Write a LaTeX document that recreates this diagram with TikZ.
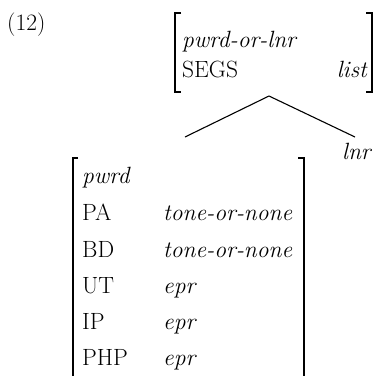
\documentclass[tikz,border=0pt]{standalone}
\usepackage{fontspec}
\begin{document}
\begin{tikzpicture}[x=1pt,y=-1pt,
  txt/.style={inner sep=0pt,anchor=base west,font=\fontsize{23.5}{28}\selectfont},
  rtxt/.style={inner sep=0pt,anchor=base east,font=\fontsize{23.5}{28}\selectfont},
  brk/.style={line width=1.2pt},
  br/.style={line width=1.1pt}]
\useasboundingbox (0,0) rectangle (374,376);
\clip (0,0) rectangle (374,376);
\node[txt] (ex) at (7,30) {(12)};
% top AVM
\node[txt] (t1) at (182,47) {\itshape pwrd-or-lnr};
\node[txt] (t2) at (182,77) {SEGS};
\node[rtxt] (t3) at (367,77) {\itshape list};
\draw[brk] (181,13) -- (175,13) -- (175,92) -- (181,92);
\draw[brk] (366,13) -- (372,13) -- (372,92) -- (366,92);
\coordinate (apex) at (269,96);
\coordinate (lend) at (185,137);
\coordinate (rend) at (355,137);
\draw[br] (lend) -- (apex) -- (rend);
\node[txt] (lnr) at (342,159) {\itshape lnr};
% bottom AVM
\draw[brk] (78,158) -- (73,158) -- (73,390);
\draw[brk] (298,158) -- (304,158) -- (304,390);
\node[txt] (b0) at (82,183) {\itshape pwrd};
\foreach \n/\a/\v/\y in {1/PA/tone-or-none/220.5,2/BD/tone-or-none/257,3/UT/epr/293,4/IP/epr/329,5/PHP/epr/365}{
  \node[txt] (a\n) at (82,\y) {\a};
  \node[txt] (v\n) at (163,\y) {\itshape \v};
}
\end{tikzpicture}
\end{document}
